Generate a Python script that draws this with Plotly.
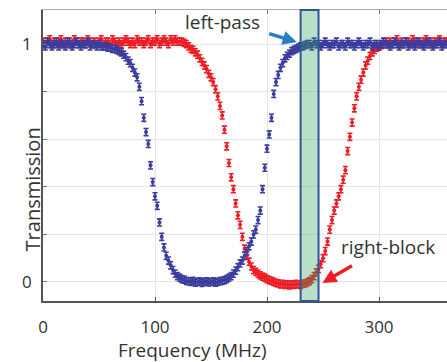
import plotly.graph_objects as go

# ---- data ----
freq = list(range(0, 361, 2))  # MHz sample positions

blue_T = [
    1.00, 0.99, 1.01, 1.00, 0.99, 1.00, 1.01, 0.99, 1.00, 1.00,
    0.99, 1.01, 1.00, 0.99, 1.00, 1.01, 1.00, 0.99, 1.00, 1.00,
    1.01, 0.99, 1.00, 1.00, 0.99, 1.00, 0.99, 0.99, 0.99, 0.985,
    0.985, 0.98, 0.98, 0.975, 0.97, 0.965, 0.955, 0.945, 0.93, 0.92,
    0.90, 0.88, 0.86, 0.82, 0.76, 0.69, 0.63, 0.58, 0.49, 0.42,
    0.36, 0.32, 0.25, 0.19, 0.145, 0.11, 0.09, 0.07, 0.05, 0.035,
    0.025, 0.018, 0.012, 0.01, 0.005, 0.003, 0.0, 0.005, -0.003, 0.0,
    0.002, -0.004, 0.0, 0.003, -0.002, 0.0, 0.002, -0.003, 0.0, 0.004,
    0.005, 0.008, 0.012, 0.018, 0.025, 0.035, 0.048, 0.062, 0.078, 0.09,
    0.11, 0.13, 0.15, 0.17, 0.20, 0.22, 0.26, 0.30, 0.39, 0.48,
    0.56, 0.62, 0.69, 0.79, 0.84, 0.87, 0.90, 0.92, 0.94, 0.95,
    0.96, 0.97, 0.975, 0.98, 0.985, 0.99, 0.99, 0.995, 1.00, 1.00,
    0.99, 1.01, 1.00, 1.00, 0.99, 1.00, 1.01, 1.00, 0.99, 1.00,
    1.00, 1.01, 0.99, 1.00, 1.00, 0.99, 1.01, 1.00, 1.00, 0.99,
    1.00, 1.01, 1.00, 0.99, 1.00, 1.00, 1.01, 0.99, 1.00, 1.00,
    0.99, 1.00, 1.01, 1.00, 1.00, 0.99, 1.00, 1.01, 1.00, 0.99,
    1.00, 1.00, 1.01, 0.99, 1.00, 1.00, 0.99, 1.01, 1.00, 1.00,
    0.99, 1.00, 1.01, 1.00, 0.99, 1.00, 1.00, 1.01, 0.99, 1.00,
    1.00,
]

red_T = [
    1.01, 1.00, 1.01, 1.02, 1.00, 1.01, 1.00, 1.01, 1.02, 1.00,
    1.01, 1.00, 1.01, 1.00, 1.02, 1.01, 1.00, 1.01, 1.01, 1.00,
    1.02, 1.01, 1.00, 1.01, 1.00, 1.01, 1.02, 1.00, 1.01, 1.01,
    1.00, 1.02, 1.01, 1.00, 1.01, 1.00, 1.01, 1.02, 1.01, 1.00,
    1.01, 1.00, 1.02, 1.01, 1.01, 1.00, 1.01, 1.02, 1.00, 1.01,
    1.01, 1.02, 1.00, 1.01, 1.02, 1.01, 1.00, 1.02, 1.01, 1.02,
    1.01, 1.01, 1.01, 1.005, 1.00, 0.99, 0.98, 0.975, 0.965, 0.955,
    0.94, 0.925, 0.91, 0.895, 0.875, 0.86, 0.84, 0.81, 0.78, 0.74,
    0.70, 0.64, 0.57, 0.50, 0.44, 0.39, 0.33, 0.28, 0.24, 0.19,
    0.14, 0.11, 0.085, 0.065, 0.05, 0.042, 0.035, 0.028, 0.022, 0.018,
    0.012, 0.008, 0.005, 0.0, -0.004, -0.006, -0.01, -0.008, -0.012, -0.01,
    -0.014, -0.01, -0.012, -0.008, -0.01, -0.012, -0.008, -0.006, -0.002, 0.004,
    0.012, 0.025, 0.04, 0.055, 0.075, 0.10, 0.13, 0.17, 0.22, 0.26,
    0.30, 0.33, 0.36, 0.39, 0.43, 0.47, 0.55, 0.61, 0.67, 0.73,
    0.78, 0.82, 0.85, 0.88, 0.91, 0.93, 0.95, 0.965, 0.975, 0.985,
    0.99, 0.995, 1.00, 1.01, 1.00, 1.01, 1.00, 1.01, 1.02, 1.00,
    1.01, 1.00, 1.01, 1.01, 1.00, 1.02, 1.01, 1.00, 1.01, 1.00,
    1.01, 1.02, 1.00, 1.01, 1.00, 1.01, 1.01, 1.02, 1.00, 1.01,
    1.01,
]

err = 0.015                     # error-bar half height
band = [230, 246]               # highlighted frequency window (MHz)
x_ticks = [0, 100, 200, 300]
y_ticks = [0, 0.2, 0.4, 0.6, 0.8, 1.0]
y_ticktext = ["0", "", "", "", "", "1"]

BLUE = "#3a3c9e"
RED = "#ee1d25"
FONT = "Open Sans"

fig = go.Figure()

for vals, col in ((red_T, RED), (blue_T, BLUE)):
    fig.add_trace(go.Scatter(
        x=freq, y=vals, mode="markers",
        marker=dict(color=col, size=4, symbol="circle"),
        error_y=dict(type="constant", value=err, color=col, thickness=1.6, width=2.5),
        showlegend=False, hoverinfo="skip",
    ))

# dummy trace for the top mirror axis
fig.add_trace(go.Scatter(x=[None], y=[None], xaxis="x2", showlegend=False))

fig.add_shape(type="rect", xref="x", yref="paper", x0=band[0], x1=band[1], y0=0, y1=1,
              fillcolor="rgba(52,166,98,0.35)", line=dict(color="#2f5597", width=2),
              layer="above")

fig.add_annotation(x=160, y=1.092, text="left-pass", showarrow=False,
                   font=dict(family=FONT, size=19, color="#333333"))
fig.add_annotation(x=308, y=0.147, text="right-block", showarrow=False,
                   font=dict(family=FONT, size=19, color="#333333"))
fig.add_annotation(x=226.5, y=1.008, text="", showarrow=True,
                   ax=-29, ay=-9, arrowhead=2, arrowsize=0.8, arrowwidth=3.5,
                   arrowcolor="#2a7fc4")
fig.add_annotation(x=249.5, y=-0.004, text="", showarrow=True,
                   ax=31, ay=-18, arrowhead=2, arrowsize=0.8, arrowwidth=3.5,
                   arrowcolor="#ee1d25")

# axis titles
fig.add_annotation(xref="paper", yref="paper", x=(192 - 43) / 404, y=-0.168,
                   text="Frequency (MHz)", showarrow=False, yanchor="middle",
                   font=dict(family=FONT, size=19, color="#333333"))
fig.add_annotation(xref="paper", yref="paper", x=-0.062, y=0.385,
                   text="Transmission", showarrow=False, textangle=-90,
                   font=dict(family=FONT, size=20, color="#333333"))

fig.update_layout(
    width=447, height=362,
    margin=dict(l=43, r=0, t=10, b=61, autoexpand=False),
    paper_bgcolor="white", plot_bgcolor="white",
    font=dict(family=FONT, size=17, color="#333333"),
    xaxis=dict(range=[0, 360.7], tickvals=x_ticks, showgrid=True, gridcolor="#e6e6e6",
               zeroline=False, showline=True, linecolor="#555555", linewidth=1.5,
               ticks="inside", ticklen=4, tickcolor="#555555", ticklabelstandoff=10,
               automargin=False),
    xaxis2=dict(range=[0, 360.7], overlaying="x", side="top", tickvals=x_ticks,
                showticklabels=False, showgrid=False, zeroline=False, showline=True,
                linecolor="#aaaaaa", linewidth=1.2, ticks="inside", ticklen=4,
                tickcolor="#777777", automargin=False),
    yaxis=dict(range=[-0.08, 1.143], tickvals=y_ticks, ticktext=y_ticktext, showgrid=True,
               gridcolor="#e6e6e6", zeroline=False, showline=True, linecolor="#555555",
               linewidth=1.5, ticks="inside", ticklen=4, tickcolor="#777777",
               ticklabelstandoff=6, automargin=False),
)

fig.write_html("out.html", config={"displayModeBar": False},
               post_script="document.body.style.margin='0';document.body.style.padding='0';")
